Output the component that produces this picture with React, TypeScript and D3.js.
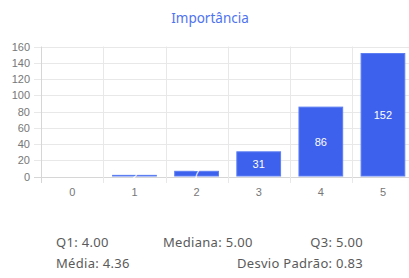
import React, { useEffect, useRef } from "react";
import * as d3 from "d3";

const categories = ["0", "1", "2", "3", "4", "5"];
const counts = [0, 2, 7, 31, 86, 152];
const yTicks = [0, 20, 40, 60, 80, 100, 120, 140, 160];
const title = "Importância";
const statsRow1 = ["Q1: 4.00", "Mediana: 5.00", "Q3: 5.00"];
const statsRow2 = ["Média: 4.36", "Desvio Padrão: 0.83"];

const W = 409;
const H = 278;

const App = () => {
  const ref = useRef<SVGSVGElement>(null);

  useEffect(() => {
    if (!ref.current) return;
    const svg = d3.select(ref.current);
    svg.selectAll("*").remove();

    const x = d3.scaleBand().domain(categories).range([41.3, 414]);
    const y = d3.scaleLinear().domain([0, 160]).range([176.5, 46.5]);
    const barW = x.bandwidth() * 0.72;

    // title
    svg
      .append("text")
      .attr("x", 210)
      .attr("y", 23)
      .attr("text-anchor", "middle")
      .attr("font-family", "'Noto Sans', sans-serif")
      .attr("font-size", 13.5)
      .attr("fill", "#4f73f0")
      .text(title);

    // horizontal grid + y ticks
    const yg = svg.append("g");
    yg.selectAll("line")
      .data(yTicks)
      .enter()
      .append("line")
      .attr("x1", 34)
      .attr("x2", W + 10)
      .attr("y1", (d) => Math.round(y(d)) + 0.5)
      .attr("y2", (d) => Math.round(y(d)) + 0.5)
      .attr("stroke", (d) => (d === 0 ? "#d6d6d6" : "#e8e8e8"))
      .attr("stroke-width", 1);
    yg.selectAll("text")
      .data(yTicks)
      .enter()
      .append("text")
      .attr("x", 30)
      .attr("y", (d) => y(d) + 4)
      .attr("text-anchor", "end")
      .attr("font-family", "'Liberation Sans', Arial, sans-serif")
      .attr("font-size", 11)
      .attr("fill", "#777")
      .text((d) => d);

    // vertical grid
    const xEdges = categories.map((c) => x(c) as number);
    svg
      .append("g")
      .selectAll("line")
      .data(xEdges)
      .enter()
      .append("line")
      .attr("x1", (d) => Math.round(d) + 0.5)
      .attr("x2", (d) => Math.round(d) + 0.5)
      .attr("y1", y(160))
      .attr("y2", 183)
      .attr("stroke", (d, i) => (i === 0 ? "#d6d6d6" : "#e8e8e8"));

    // x labels
    svg
      .append("g")
      .selectAll("text")
      .data(categories)
      .enter()
      .append("text")
      .attr("x", (d) => (x(d) as number) + x.bandwidth() / 2)
      .attr("y", 196)
      .attr("text-anchor", "middle")
      .attr("font-family", "'Liberation Sans', Arial, sans-serif")
      .attr("font-size", 11)
      .attr("fill", "#777")
      .text((d) => d);

    // bars
    const bars = svg.append("g");
    bars
      .selectAll("rect")
      .data(counts)
      .enter()
      .filter((d) => d > 0)
      .append("rect")
      .attr("x", (d) => (x(categories[counts.indexOf(d)]) as number) + (x.bandwidth() - barW) / 2 + 0.5)
      .attr("y", (d) => y(d) + 0.5)
      .attr("width", barW - 1)
      .attr("height", (d) => y(0) - y(d) - 1)
      .attr("fill", "#3d61ec")
      .attr("stroke", "#5d7ef2")
      .attr("stroke-width", 1);

    // value labels
    svg
      .append("g")
      .selectAll("text")
      .data(counts)
      .enter()
      .filter((d) => d > 0)
      .append("text")
      .attr("x", (d) => (x(categories[counts.indexOf(d)]) as number) + x.bandwidth() / 2)
      .attr("y", (d) => (y(d) + y(0)) / 2 + 4)
      .attr("text-anchor", "middle")
      .attr("font-family", "'Liberation Sans', Arial, sans-serif")
      .attr("font-size", 11)
      .attr("fill", "#fff")
      .text((d) => d);

    // stats
    const statStyle = (s: any) =>
      s
        .attr("font-family", "'Noto Sans', sans-serif")
        .attr("font-size", 13)
        .attr("letter-spacing", 0.3)
        .attr("fill", "#5a5a5a");
    const row1X = [56, 163, 363];
    const row1Anchor = ["start", "start", "end"];
    statsRow1.forEach((t, i) => {
      svg
        .append("text")
        .attr("x", row1X[i])
        .attr("y", 247)
        .attr("text-anchor", row1Anchor[i])
        .call(statStyle)
        .text(t);
    });
    const row2X = [56, 363];
    const row2Anchor = ["start", "end"];
    statsRow2.forEach((t, i) => {
      svg
        .append("text")
        .attr("x", row2X[i])
        .attr("y", 268)
        .attr("text-anchor", row2Anchor[i])
        .call(statStyle)
        .text(t);
    });
  }, []);

  return (
    <svg
      ref={ref}
      width={W}
      height={H}
      style={{ position: "absolute", left: 0, top: 0, background: "#fff" }}
    />
  );
};

export default App;
